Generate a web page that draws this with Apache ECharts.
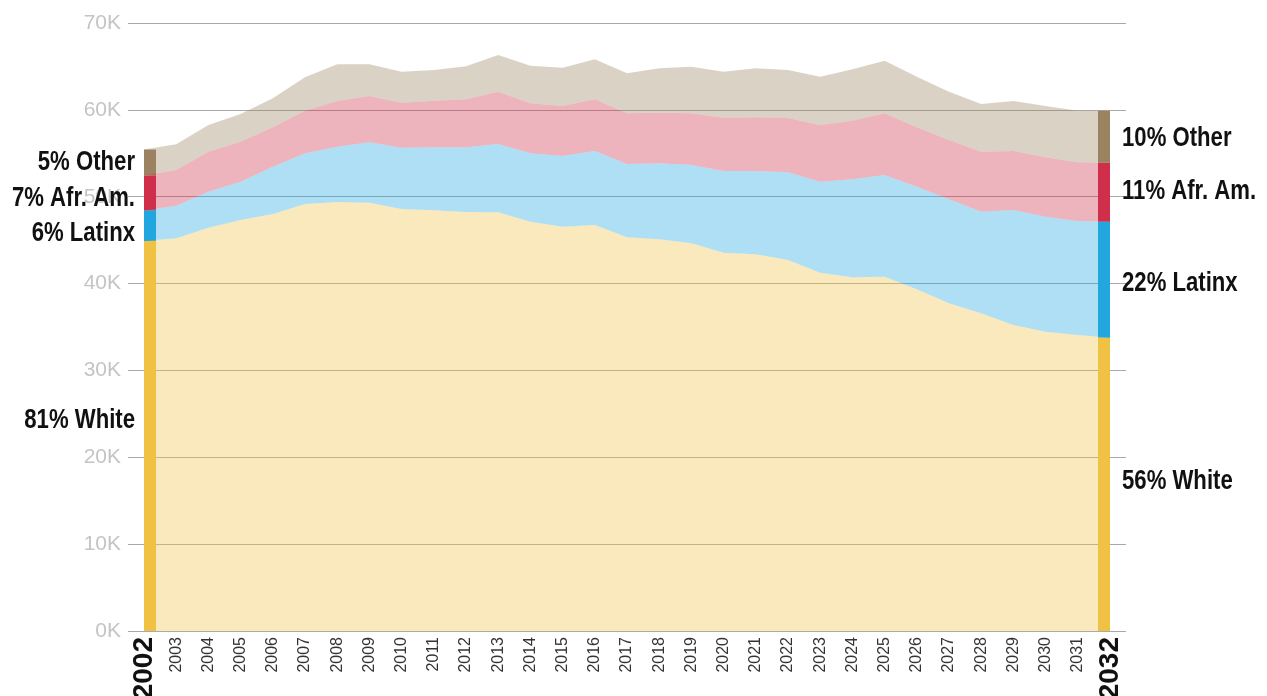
<!DOCTYPE html>
<html>
<head>
<meta charset="utf-8">
<title>Enrollment by race/ethnicity, 2002-2032</title>
<script src="https://cdn.jsdelivr.net/npm/echarts@6/dist/echarts.min.js"></script>
<style>
    html, body { margin: 0; padding: 0; background: #fff; }
    #chart { width: 1267px; height: 696px; }
</style>
</head>
<body>
<div id="chart"></div>
<script>
// values in thousands of students
const years = ['2002', '2003', '2004', '2005', '2006', '2007', '2008', '2009', '2010', '2011',
    '2012', '2013', '2014', '2015', '2016', '2017', '2018', '2019', '2020', '2021',
    '2022', '2023', '2024', '2025', '2026', '2027', '2028', '2029', '2030', '2031', '2032']
const white = [44.90, 45.21, 46.43, 47.32, 48.01, 49.16, 49.39, 49.31, 48.58, 48.43,
    48.24, 48.20, 47.12, 46.55, 46.74, 45.33, 45.10, 44.64, 43.55, 43.37,
    42.71, 41.25, 40.72, 40.79, 39.34, 37.73, 36.58, 35.23, 34.46, 34.08, 33.77]
const latinx = [3.51, 3.76, 4.15, 4.41, 5.44, 5.84, 6.37, 6.95, 7.06, 7.26,
    7.45, 7.87, 7.88, 8.14, 8.52, 8.44, 8.75, 9.01, 9.41, 9.59,
    10.10, 10.48, 11.28, 11.71, 11.81, 11.97, 11.69, 13.24, 13.24, 13.12, 13.35]
const afrAm = [4.03, 4.11, 4.60, 4.60, 4.54, 4.90, 5.26, 5.33, 5.18, 5.36,
    5.54, 6.02, 5.75, 5.75, 5.95, 5.83, 5.82, 5.95, 6.14, 6.18,
    6.25, 6.53, 6.75, 7.10, 6.84, 6.83, 6.91, 6.79, 6.84, 6.76, 6.80]
const other = [2.99, 2.95, 3.08, 3.19, 3.34, 3.85, 4.22, 3.65, 3.57, 3.54,
    3.78, 4.22, 4.33, 4.41, 4.61, 4.61, 5.11, 5.37, 5.29, 5.64,
    5.53, 5.56, 5.92, 6.06, 5.83, 5.56, 5.49, 5.76, 5.90, 5.94, 5.98]
const groupNames = ['White', 'Latinx', 'Afr. Am.', 'Other']

// styling
const groups = [white, latinx, afrAm, other]
const colors = ['#F0C244', '#22A7E0', '#D0304B', '#9C8361']
const labelNudgeLeft = [-15, 8, 6, 0]
const labelNudgeRight = [-3, 4, -1, 2]
const plain = '"Liberation Sans", Arial, sans-serif'

const chart = echarts.init(document.getElementById('chart'))

// end bars at first and last year: [index, start, end, group]
const ends = [0, years.length - 1]
const endBars = []
const endLabels = []
ends.forEach((idx) => {
    const total = groups.reduce((s, arr) => s + arr[idx], 0)
    let acc = 0
    groups.forEach((arr, g) => {
        endBars.push([idx, acc, acc + arr[idx], g])
        endLabels.push(Math.round(arr[idx] / total * 100) + '% ' + groupNames[g])
        acc += arr[idx]
    })
})

const areaSeries = groups.map((arr, g) => ({
    name: groupNames[g],
    type: 'line',
    stack: 'total',
    symbol: 'none',
    silent: true,
    lineStyle: { width: 0 },
    areaStyle: { color: colors[g], opacity: 0.36 },
    data: arr
}))

const option = {
    animation: false,
    grid: { left: 144, right: 157, top: 23, bottom: 65, outerBoundsMode: 'none' },
    xAxis: {
        type: 'category',
        boundaryGap: false,
        data: years,
        axisLine: { show: false },
        axisTick: { show: false },
        axisLabel: {
            interval: 0,
            rotate: 90,
            margin: 6,
            color: '#333',
            fontFamily: plain,
            fontSize: 16,
            formatter: (v, i) => (i === 0 || i === years.length - 1) ? '{b|' + v + '}' : v,
            rich: {
                b: { fontFamily: plain, fontSize: 28, fontWeight: 'bold', color: '#111' }
            }
        }
    },
    yAxis: [
        {
            type: 'value',
            min: 0,
            max: 70,
            interval: 10,
            axisLine: { show: false },
            axisTick: { show: true, length: 16, lineStyle: { color: '#aaa' } },
            axisLabel: {
                margin: 23,
                formatter: '{value}K',
                color: '#c4c4c4',
                fontFamily: plain,
                fontSize: 21
            },
            splitLine: { lineStyle: { color: '#aaa', width: 1 } }
        },
        {
            type: 'value',
            position: 'right',
            min: 0,
            max: 70,
            interval: 10,
            axisLine: { show: false },
            axisTick: { show: true, length: 16, lineStyle: { color: '#aaa' } },
            axisLabel: { show: false },
            splitLine: { show: false }
        }
    ],
    series: [
        ...areaSeries,
        {
            type: 'custom',
            silent: true,
            clip: false,
            data: endBars,
            encode: { x: 0, y: [1, 2] },
            renderItem: (params, api) => {
                const idx = api.value(0)
                const g = api.value(3)
                const top = api.coord([idx, api.value(2)])
                const bottom = api.coord([idx, api.value(1)])
                const w = 12
                const first = idx === 0
                const x = first ? top[0] : top[0] - w
                return {
                    type: 'group',
                    children: [
                        {
                            type: 'rect',
                            shape: { x: x, y: top[1], width: w, height: bottom[1] - top[1] },
                            style: { fill: colors[g] }
                        },
                        {
                            type: 'text',
                            x: first ? x - 9 : x + w + 12,
                            y: (top[1] + bottom[1]) / 2 + (first ? labelNudgeLeft[g] : labelNudgeRight[g]),
                            scaleX: 0.82,
                            style: {
                                text: endLabels[params.dataIndex],
                                align: first ? 'right' : 'left',
                                verticalAlign: 'middle',
                                fontFamily: plain,
                                fontSize: 27,
                                fontWeight: 'bold',
                                fill: '#111'
                            }
                        }
                    ]
                }
            }
        }
    ]
}

chart.setOption(option)
</script>
</body>
</html>
